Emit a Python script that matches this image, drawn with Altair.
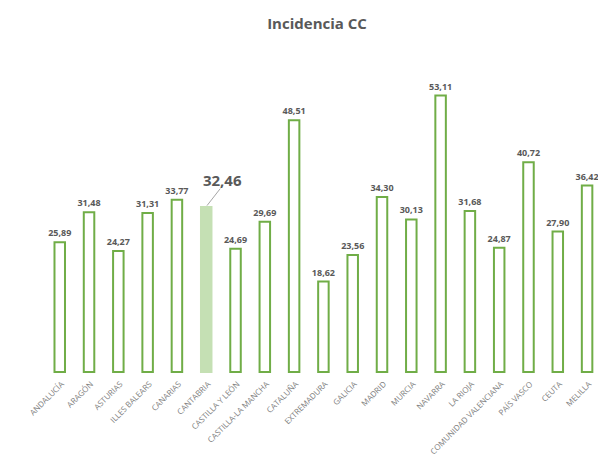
import json
import altair as alt
import pandas as pd

regions = ["ANDALUCÍA", "ARAGÓN", "ASTURIAS", "ILLES BALEARS", "CANARIAS", "CANTABRIA",
           "CASTILLA Y LEÓN", "CASTILLA-LA MANCHA", "CATALUÑA", "EXTREMADURA", "GALICIA",
           "MADRID", "MURCIA", "NAVARRA", "LA RIOJA", "COMUNIDAD VALENCIANA", "PAÍS VASCO",
           "CEUTA", "MELILLA"]
values = [25.89, 31.48, 24.27, 31.31, 33.77, 32.46, 24.69, 29.69, 48.51, 18.62, 23.56,
          34.30, 30.13, 53.11, 31.68, 24.87, 40.72, 27.90, 36.42]
highlight = "CANTABRIA"

df = pd.DataFrame({"region": regions, "value": values})
df["idx"] = list(range(len(regions)))
df["label"] = [f"{v:.2f}".replace(".", ",") for v in values]
df["hl"] = df["region"] == highlight

YMIN, YMAX = 1.85, 60.07
XMIN, XMAX = -0.469, 18.202

label_expr = json.dumps(regions, ensure_ascii=False) + "[datum.value]"

x = alt.X("idx:Q", scale=alt.Scale(domain=[XMIN, XMAX], nice=False, zero=False),
          axis=alt.Axis(title=None, values=list(range(len(regions))), labelExpr=label_expr,
                        labelAngle=-45, labelFontSize=8, labelFont="Open Sans",
                        labelColor="#808080", domain=False, ticks=False, grid=False,
                        labelPadding=8, labelOverlap=False, labelFlush=False))
y = alt.Y("value:Q", scale=alt.Scale(domain=[YMIN, YMAX], zero=False, nice=False),
          axis=None)

base = alt.Chart(df)

bars = base.transform_filter("!datum.hl").mark_bar(
    fill="white", stroke="#70ad47", strokeWidth=2, width=10.5
).encode(x=x, y=y, y2=alt.datum(YMIN))

hlbar = base.transform_filter("datum.hl").mark_bar(
    fill="#c5e0b4", stroke="#c5e0b4", strokeWidth=2, width=10.5
).encode(x=x, y=y, y2=alt.datum(YMIN))

labels = base.transform_filter("!datum.hl").mark_text(
    baseline="bottom", dy=-4, fontSize=9, fontWeight="bold", font="Open Sans",
    color="#595959"
).encode(x=x, y=y, text="label:N")

hllabel = base.transform_filter("datum.hl").mark_text(
    baseline="middle", dx=16, dy=-26, fontSize=15, fontWeight="bold", font="Open Sans",
    color="#595959"
).encode(x=x, y=y, text="label:N")

leader = base.transform_filter("datum.hl").mark_point(
    shape="M-0.78,1L0.78,-1", size=289, filled=False, stroke="#a6a6a6", strokeWidth=1,
    xOffset=7.4, yOffset=-9.8, opacity=1
).encode(x=x, y=y)

chart = alt.layer(bars, hlbar, labels, hllabel, leader).properties(
    width=557, height=314,
    padding={"left": 33, "top": 50, "right": 0, "bottom": 85},
    autosize=alt.AutoSizeParams(type="none"),
    title=alt.TitleParams("Incidencia CC", fontSize=15, font="Open Sans", fontWeight="bold",
                          color="#595959", anchor="middle", frame="group", offset=26, dx=-2.5),
    background="white",
).configure_view(stroke=None)

chart.save("out.html", embed_options={"renderer": "svg", "actions": False})
